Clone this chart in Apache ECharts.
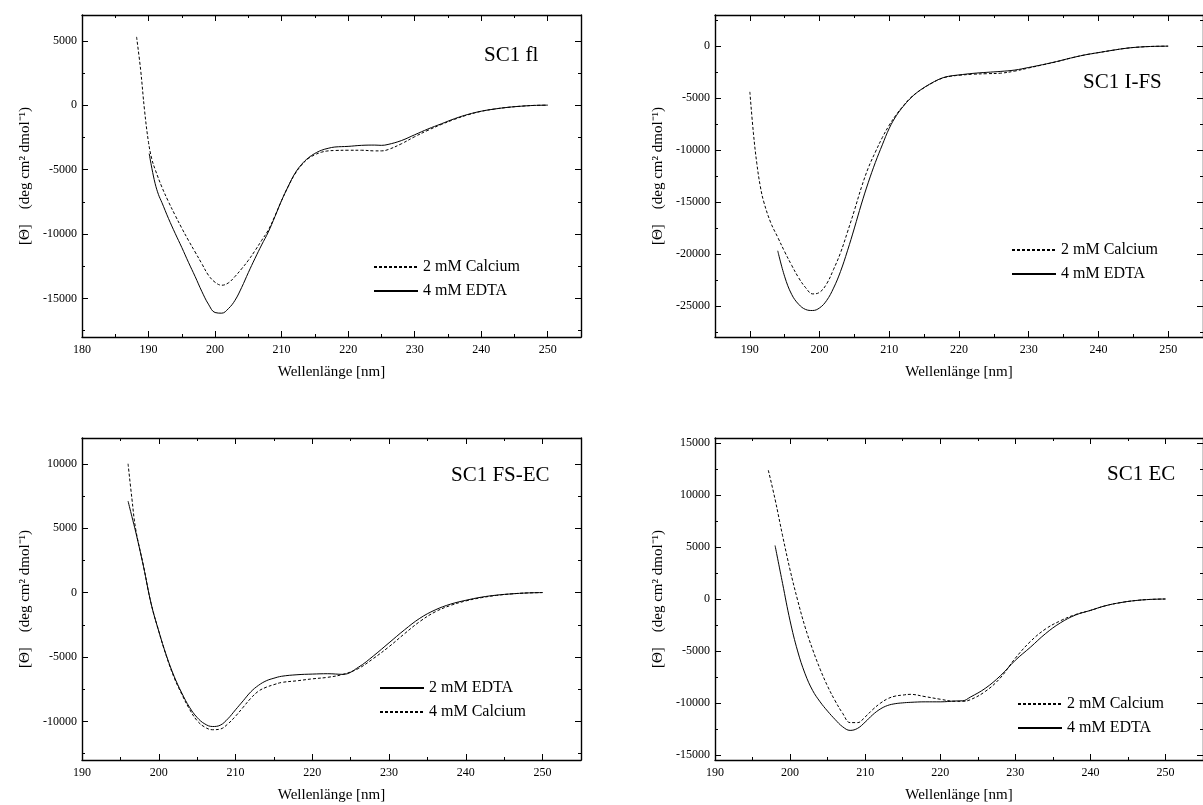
<!DOCTYPE html>
<html>
<head>
<meta charset="utf-8">
<title>CD-Spektren SC1</title>
<script src="https://cdn.jsdelivr.net/npm/echarts@6/dist/echarts.min.js"></script>
<style>
  html, body { margin: 0; padding: 0; background: #fff; overflow: hidden; }
  #chart { width: 1203px; height: 805px; }
</style>
</head>
<body>
<div id="chart"></div>
<script>
// ---- SC1 fl ----
const flCalcium = [[188.2,5300],[188.8,2800],[189.4,-400],[190,-2900],[190.5,-4200],[191,-5000],[192,-6350],[193,-7500],[194,-8550],[195,-9550],[196,-10500],[197,-11400],[198,-12300],[199,-13200],[200,-13750],[201,-13980],[202,-13800],[203,-13300],[204,-12700],[205,-12050],[206,-11300],[207,-10500],[208,-9700],[209,-8600],[210,-7400],[211,-6300],[212,-5350],[213,-4650],[214,-4150],[215,-3850],[216,-3650],[217,-3550],[218,-3520],[220,-3500],[222,-3500],[224,-3550],[225,-3550],[226,-3450],[228,-3000],[230,-2450],[232,-1950],[234,-1500],[236,-1100],[238,-750],[240,-480],[242,-300],[244,-170],[246,-80],[248,-20],[250,0]]
const flEdta = [[190.1,-3760],[190.5,-4900],[191,-6100],[191.5,-6950],[192,-7550],[193,-8800],[194,-9950],[195,-11050],[196,-12200],[197,-13300],[198,-14450],[199,-15450],[200,-16100],[201,-16150],[202,-15800],[203,-15150],[204,-14150],[205,-13000],[206,-11900],[207,-10850],[208,-9850],[209,-8650],[210,-7400],[211,-6300],[212,-5300],[213,-4600],[214,-4100],[215,-3750],[216,-3500],[217,-3350],[218,-3250],[220,-3200],[222,-3120],[224,-3100],[225,-3120],[226,-3050],[228,-2750],[230,-2300],[232,-1850],[234,-1450],[236,-1050],[238,-720],[240,-470],[242,-300],[244,-170],[246,-80],[248,-20],[250,0]]

// ---- SC1 I-FS ----
const ifsCalcium = [[190,-4400],[190.5,-8300],[191,-11300],[191.5,-13500],[192,-15000],[193,-17000],[194,-18400],[195,-19800],[196,-21100],[197,-22300],[198,-23250],[199,-23850],[200,-23700],[201,-22900],[202,-21500],[203,-19900],[204,-17900],[205,-15800],[206,-13600],[207,-11700],[208,-10200],[209,-8800],[210,-7600],[211,-6600],[212,-5750],[213,-5000],[214,-4450],[215,-4000],[216,-3600],[217,-3250],[218,-3000],[219,-2880],[220,-2800],[222,-2700],[224,-2650],[226,-2600],[228,-2400],[230,-2100],[232,-1800],[234,-1500],[236,-1150],[238,-850],[240,-620],[242,-400],[244,-200],[246,-80],[248,-20],[250,0]]
const ifsEdta = [[194,-19700],[195,-22200],[196,-23900],[197,-24850],[198,-25350],[199,-25450],[200,-25200],[201,-24500],[202,-23300],[203,-21700],[204,-19700],[205,-17500],[206,-15200],[207,-13100],[208,-11200],[209,-9500],[210,-7900],[211,-6700],[212,-5800],[213,-5050],[214,-4450],[215,-3980],[216,-3580],[217,-3230],[218,-2980],[219,-2850],[220,-2770],[222,-2620],[224,-2520],[226,-2430],[228,-2300],[230,-2050],[232,-1780],[234,-1480],[236,-1150],[238,-850],[240,-620],[242,-400],[244,-200],[246,-80],[248,-20],[250,0]]

// ---- SC1 FS-EC ----
const fsecEdta = [[196,7100],[196.5,5900],[197,4700],[198,2050],[199,-850],[200,-3000],[201,-4900],[202,-6500],[203,-7800],[204,-8900],[205,-9700],[206,-10200],[207,-10400],[208,-10300],[209,-9800],[210,-9100],[211,-8400],[212,-7700],[213,-7200],[214,-6850],[215,-6650],[216,-6500],[218,-6380],[220,-6330],[222,-6300],[224,-6350],[226,-5800],[228,-4900],[230,-3900],[232,-2900],[234,-2000],[236,-1350],[238,-900],[240,-600],[242,-360],[244,-200],[246,-100],[248,-30],[250,0]]
const fsecCalcium = [[196,10000],[196.5,7300],[197,4900],[198,2100],[199,-850],[200,-3000],[201,-4950],[202,-6600],[203,-7900],[204,-9050],[205,-9950],[206,-10450],[207,-10650],[208,-10600],[209,-10200],[210,-9600],[211,-8900],[212,-8200],[213,-7650],[214,-7350],[215,-7150],[216,-6980],[218,-6850],[220,-6700],[222,-6580],[224,-6350],[226,-5900],[228,-5100],[230,-4200],[232,-3200],[234,-2250],[236,-1500],[238,-1000],[240,-650],[242,-400],[244,-220],[246,-100],[248,-30],[250,0]]

// ---- SC1 EC ----
const ecCalcium = [[197.1,12400],[198,9600],[199,6100],[200,2800],[201,-100],[202,-2700],[203,-4850],[204,-6750],[205,-8400],[206,-9800],[207,-11000],[208,-11900],[209,-11900],[210,-11350],[211,-10650],[212,-10050],[213,-9600],[214,-9350],[215,-9250],[216,-9180],[218,-9400],[220,-9650],[222,-9850],[223,-9850],[224,-9700],[226,-8900],[228,-7600],[230,-5700],[232,-4100],[234,-2900],[236,-2100],[238,-1500],[240,-1100],[242,-650],[244,-350],[246,-150],[248,-40],[250,0]]
const ecEdta = [[198,5150],[199,1500],[200,-2100],[201,-5000],[202,-7200],[203,-8800],[204,-9900],[205,-10800],[206,-11600],[207,-12300],[208,-12650],[209,-12450],[210,-11850],[211,-11150],[212,-10600],[213,-10250],[214,-10080],[215,-10000],[216,-9950],[218,-9900],[220,-9900],[222,-9820],[223,-9800],[224,-9450],[226,-8600],[228,-7400],[230,-5900],[232,-4650],[234,-3350],[236,-2300],[238,-1550],[240,-1100],[242,-650],[244,-350],[246,-150],[248,-40],[250,0]]

// tick values
const xMajorFrom180 = [180,190,200,210,220,230,240,250]
const xMajorFrom190 = [190,200,210,220,230,240,250]
const xMinor = [185,195,205,215,225,235,245]
const flYMajor = [-15000,-10000,-5000,0,5000]
const flYMinor = [-17500,-12500,-7500,-2500,2500]
const ifsYMajor = [-25000,-20000,-15000,-10000,-5000,0]
const ifsYMinor = [-27500,-22500,-17500,-12500,-7500,-2500,2500]
const fsecYMajor = [-10000,-5000,0,5000,10000]
const fsecYMinor = [-12500,-7500,-2500,2500,7500]
const ecYMajor = [-15000,-10000,-5000,0,5000,10000,15000]
const ecYMinor = [-12500,-7500,-2500,2500,7500,12500]

const FONT = '"Liberation Serif", "Times New Roman", serif'
const X_NAME = 'Wellenlänge [nm]'
const Y_NAME = '[Θ]    (deg cm² dmol⁻¹)'

const panels = [
  {
    title: 'SC1 fl', titlePos: { left: 484, top: 43 },
    box: { left: 82, top: 15 }, xRange: [180, 255], yRange: [-18000, 7000],
    xMajor: xMajorFrom180, yMajor: flYMajor, yMinor: flYMinor,
    legendPos: { left: 373, top: 259 },
    lines: [
      { name: '2 mM Calcium', data: flCalcium, dashed: true },
      { name: '4 mM EDTA', data: flEdta },
    ],
  },
  {
    title: 'SC1 I-FS', titlePos: { left: 1083, top: 70 },
    box: { left: 715, top: 15 }, xRange: [185, 255], yRange: [-28000, 3000],
    xMajor: xMajorFrom190, yMajor: ifsYMajor, yMinor: ifsYMinor,
    legendPos: { left: 1011, top: 242 },
    lines: [
      { name: '2 mM Calcium', data: ifsCalcium, dashed: true },
      { name: '4 mM EDTA', data: ifsEdta },
    ],
  },
  {
    title: 'SC1 FS-EC', titlePos: { left: 451, top: 463 },
    box: { left: 82, top: 438 }, xRange: [190, 255], yRange: [-13000, 12000],
    xMajor: xMajorFrom190, yMajor: fsecYMajor, yMinor: fsecYMinor,
    legendPos: { left: 379, top: 680 },
    lines: [
      { name: '2 mM EDTA', data: fsecEdta },
      { name: '4 mM Calcium', data: fsecCalcium, dashed: true },
    ],
  },
  {
    title: 'SC1 EC', titlePos: { left: 1107, top: 462 },
    box: { left: 715, top: 438 }, xRange: [190, 255], yRange: [-15500, 15500],
    xMajor: xMajorFrom190, yMajor: ecYMajor, yMinor: ecYMinor,
    legendPos: { left: 1017, top: 696 },
    lines: [
      { name: '2 mM Calcium', data: ecCalcium, dashed: true },
      { name: '4 mM EDTA', data: ecEdta },
    ],
  },
]

function makeAxis(gridIndex, position, range, ticks, tickLen, showLine, showLabels) {
  return {
    type: 'value',
    gridIndex,
    position,
    min: range[0],
    max: range[1],
    axisLine: { show: showLine, onZero: false, lineStyle: { color: '#000', width: 1.4 } },
    axisTick: { show: true, inside: true, length: tickLen, customValues: ticks, lineStyle: { color: '#000', width: 1 } },
    axisLabel: {
      show: showLabels,
      customValues: ticks,
      margin: 7,
      color: '#000',
      fontSize: 12,
      fontFamily: FONT,
      formatter: (v) => String(v),
    },
    splitLine: { show: false },
  }
}

const grid = []
const xAxis = []
const yAxis = []
const series = []
const legend = []
const title = []

panels.forEach((p, i) => {
  grid.push({ left: p.box.left, top: p.box.top, width: 499, height: 322 })

  // bottom / top x axes: major ticks with labels, minor ticks without
  const xi = xAxis.length
  const mainX = makeAxis(i, 'bottom', p.xRange, p.xMajor, 6, true, true)
  mainX.name = X_NAME
  mainX.nameLocation = 'middle'
  mainX.nameGap = 28
  mainX.nameTextStyle = { fontFamily: FONT, fontSize: 15, color: '#000' }
  xAxis.push(mainX)
  xAxis.push(makeAxis(i, 'bottom', p.xRange, xMinor, 3, false, false))
  xAxis.push(makeAxis(i, 'top', p.xRange, p.xMajor, 6, true, false))
  xAxis.push(makeAxis(i, 'top', p.xRange, xMinor, 3, false, false))

  // left / right y axes
  const yi = yAxis.length
  const mainY = makeAxis(i, 'left', p.yRange, p.yMajor, 6, true, true)
  mainY.axisLabel.margin = 5
  mainY.name = Y_NAME
  mainY.nameLocation = 'middle'
  mainY.nameGap = 49
  mainY.nameRotate = 90
  mainY.nameTextStyle = { fontFamily: FONT, fontSize: 15, color: '#000' }
  yAxis.push(mainY)
  yAxis.push(makeAxis(i, 'left', p.yRange, p.yMinor, 3, false, false))
  yAxis.push(makeAxis(i, 'right', p.yRange, p.yMajor, 6, true, false))
  yAxis.push(makeAxis(i, 'right', p.yRange, p.yMinor, 3, false, false))

  p.lines.forEach((l) => {
    series.push({
      name: l.name,
      type: 'line',
      xAxisIndex: xi,
      yAxisIndex: yi,
      data: l.data,
      symbol: 'none',
      smooth: 0.4,
      color: '#000',
      itemStyle: { color: '#000' },
      lineStyle: { color: '#000', width: 1, type: l.dashed ? [3, 2] : 'solid' },
    })
  })

  legend.push({
    left: p.legendPos.left,
    top: p.legendPos.top,
    orient: 'vertical',
    padding: 0,
    itemWidth: 44,
    itemHeight: 14,
    itemGap: 8,
    selectedMode: false,
    itemStyle: { opacity: 0 },
    data: p.lines.map((l) => l.name),
    textStyle: { fontFamily: FONT, fontSize: 16, lineHeight: 16, color: '#000' },
  })

  title.push({
    text: p.title,
    left: p.titlePos.left,
    top: p.titlePos.top,
    padding: 0,
    textStyle: { fontFamily: FONT, fontSize: 21, fontWeight: 'normal', color: '#000', lineHeight: 24 },
  })
})

const chart = echarts.init(document.getElementById('chart'), null, { renderer: 'canvas' })
chart.setOption({
  animation: false,
  backgroundColor: '#fff',
  title,
  legend,
  grid,
  xAxis,
  yAxis,
  series,
})
</script>
</body>
</html>
